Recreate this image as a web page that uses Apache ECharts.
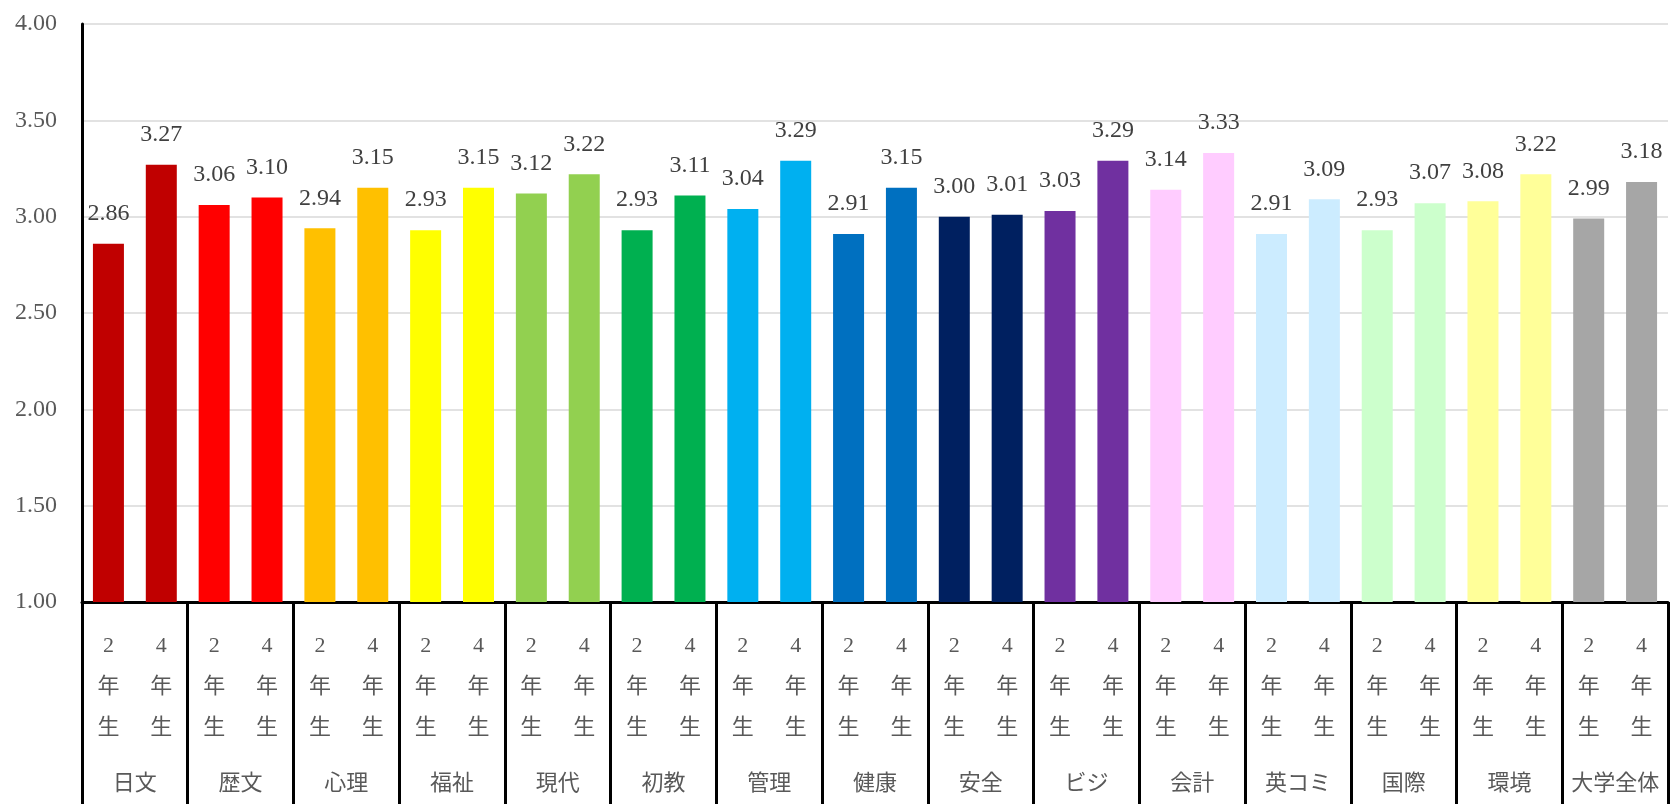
<!DOCTYPE html>
<html><head><meta charset="utf-8">
<script src="https://cdn.jsdelivr.net/npm/echarts@6/dist/echarts.min.js"></script>
<style>html,body{margin:0;padding:0;background:#fff}#c{width:1675px;height:804px}</style>
</head><body><div id="c"></div>
<script>
const groups = ['日文','歴文','心理','福祉','現代','初教','管理','健康','安全','ビジ','会計','英コミ','国際','環境','大学全体'];
const year2 = [2.86,3.06,2.94,2.93,3.12,2.93,3.04,2.91,3.00,3.03,3.14,2.91,2.93,3.08,2.99];
const year4 = [3.27,3.10,3.15,3.15,3.22,3.11,3.29,3.15,3.01,3.29,3.33,3.09,3.07,3.22,3.18];
const colors = ['#C00000','#FF0000','#FFC000','#FFFF00','#92D050','#00B050','#00B0F0','#0070C0','#002060','#7030A0','#FFCCFF','#CCECFF','#CCFFCC','#FFFF99','#A6A6A6'];
const yearLabels = ['2\n年\n生','4\n年\n生'];
const yTicks = {min:1, max:4, interval:0.5};

const FONT = '"Liberation Serif", "Noto Sans CJK JP", serif';
const cats = [], data = [];
groups.forEach((g,i)=>{
  cats.push(yearLabels[0]); data.push({value:year2[i], itemStyle:{color:colors[i]}});
  cats.push(yearLabels[1]); data.push({value:year4[i], itemStyle:{color:colors[i]}});
});
const chart = echarts.init(document.getElementById('c'));
chart.setOption({
  animation:false,
  backgroundColor:'#fff',
  grid:{left:82,right:7,top:24,bottom:202},
  xAxis:[
    {type:'category',data:cats,position:'bottom',
     axisLine:{show:true,lineStyle:{color:'#000',width:3}},
     axisTick:{show:false},
     axisLabel:{interval:0,margin:24,fontSize:22,lineHeight:41,color:'#595959',fontFamily:FONT}},
    {type:'category',data:groups,position:'bottom',
     axisLine:{show:false},
     axisTick:{show:true,interval:0,length:210,lineStyle:{color:'#000',width:3}},
     axisLabel:{interval:0,margin:171,fontSize:22,color:'#595959',fontFamily:FONT}}
  ],
  yAxis:{type:'value',min:yTicks.min,max:yTicks.max,interval:yTicks.interval,
    axisLine:{show:true,lineStyle:{color:'#000',width:3}},
    axisTick:{show:false},
    splitLine:{lineStyle:{color:'#D9D9D9',width:1.5}},
    axisLabel:{formatter:v=>v.toFixed(2),fontSize:24,color:'#595959',margin:25,fontFamily:FONT}},
  series:[{type:'bar',xAxisIndex:0,data:data,barWidth:31,
    label:{show:true,position:'top',distance:18,fontSize:24,color:'#404040',fontFamily:FONT,
      formatter:p=>p.value.toFixed(2)}}]
});
</script></body></html>
